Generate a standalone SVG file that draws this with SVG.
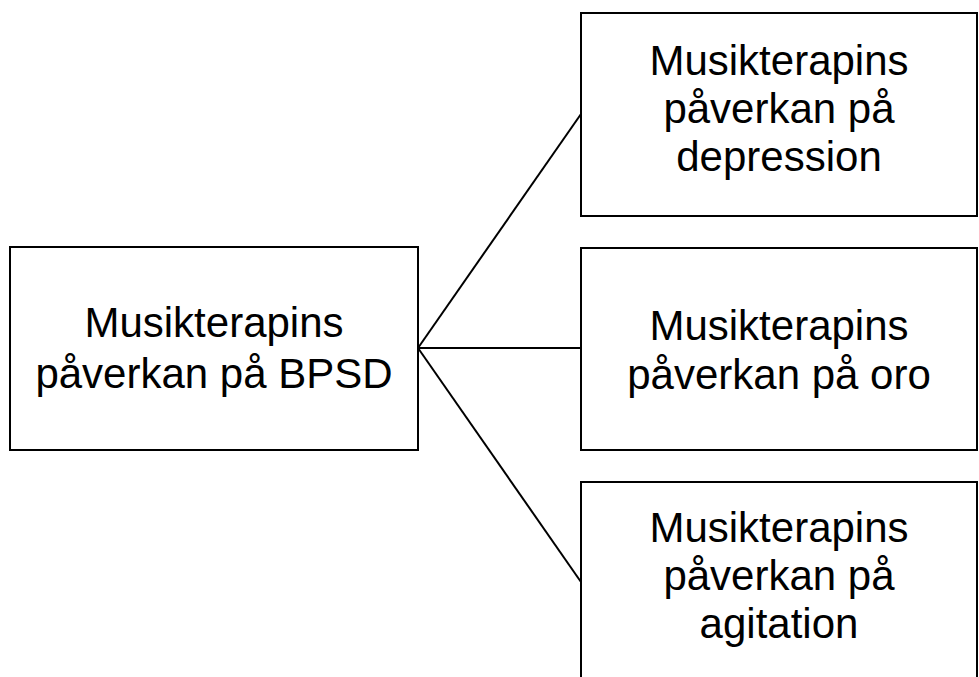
<svg xmlns="http://www.w3.org/2000/svg" width="979" height="677" viewBox="0 0 979 677">
<style>
.box{fill:#fff;stroke:#000;stroke-width:2}
.t{font-family:"Liberation Sans",Arial,sans-serif;font-size:42px;fill:#000;text-anchor:middle}
.c{stroke:#000;stroke-width:2;fill:none}
</style>
<rect width="979" height="677" fill="#fff"/>
<g id="connectors">
<line class="c" x1="418" y1="348" x2="581" y2="114"/>
<line class="c" x1="418" y1="348" x2="581" y2="348"/>
<line class="c" x1="418" y1="348" x2="581" y2="582"/>
</g>
<g id="n-bpsd">
<rect class="box" x="10" y="247" width="408" height="203"/>
<text class="t" x="214" y="337">Musikterapins</text>
<text class="t" x="214" y="388">påverkan på BPSD</text>
</g>
<g id="n-depression">
<rect class="box" x="581" y="13" width="396" height="203"/>
<text class="t" x="779" y="75">Musikterapins</text>
<text class="t" x="779" y="123">påverkan på</text>
<text class="t" x="779" y="171">depression</text>
</g>
<g id="n-oro">
<rect class="box" x="581" y="248" width="396" height="202"/>
<text class="t" x="779" y="340">Musikterapins</text>
<text class="t" x="779" y="389">påverkan på oro</text>
</g>
<g id="n-agitation">
<rect class="box" x="581" y="482" width="396" height="210"/>
<text class="t" x="779" y="542">Musikterapins</text>
<text class="t" x="779" y="590">påverkan på</text>
<text class="t" x="779" y="638">agitation</text>
</g>
</svg>
